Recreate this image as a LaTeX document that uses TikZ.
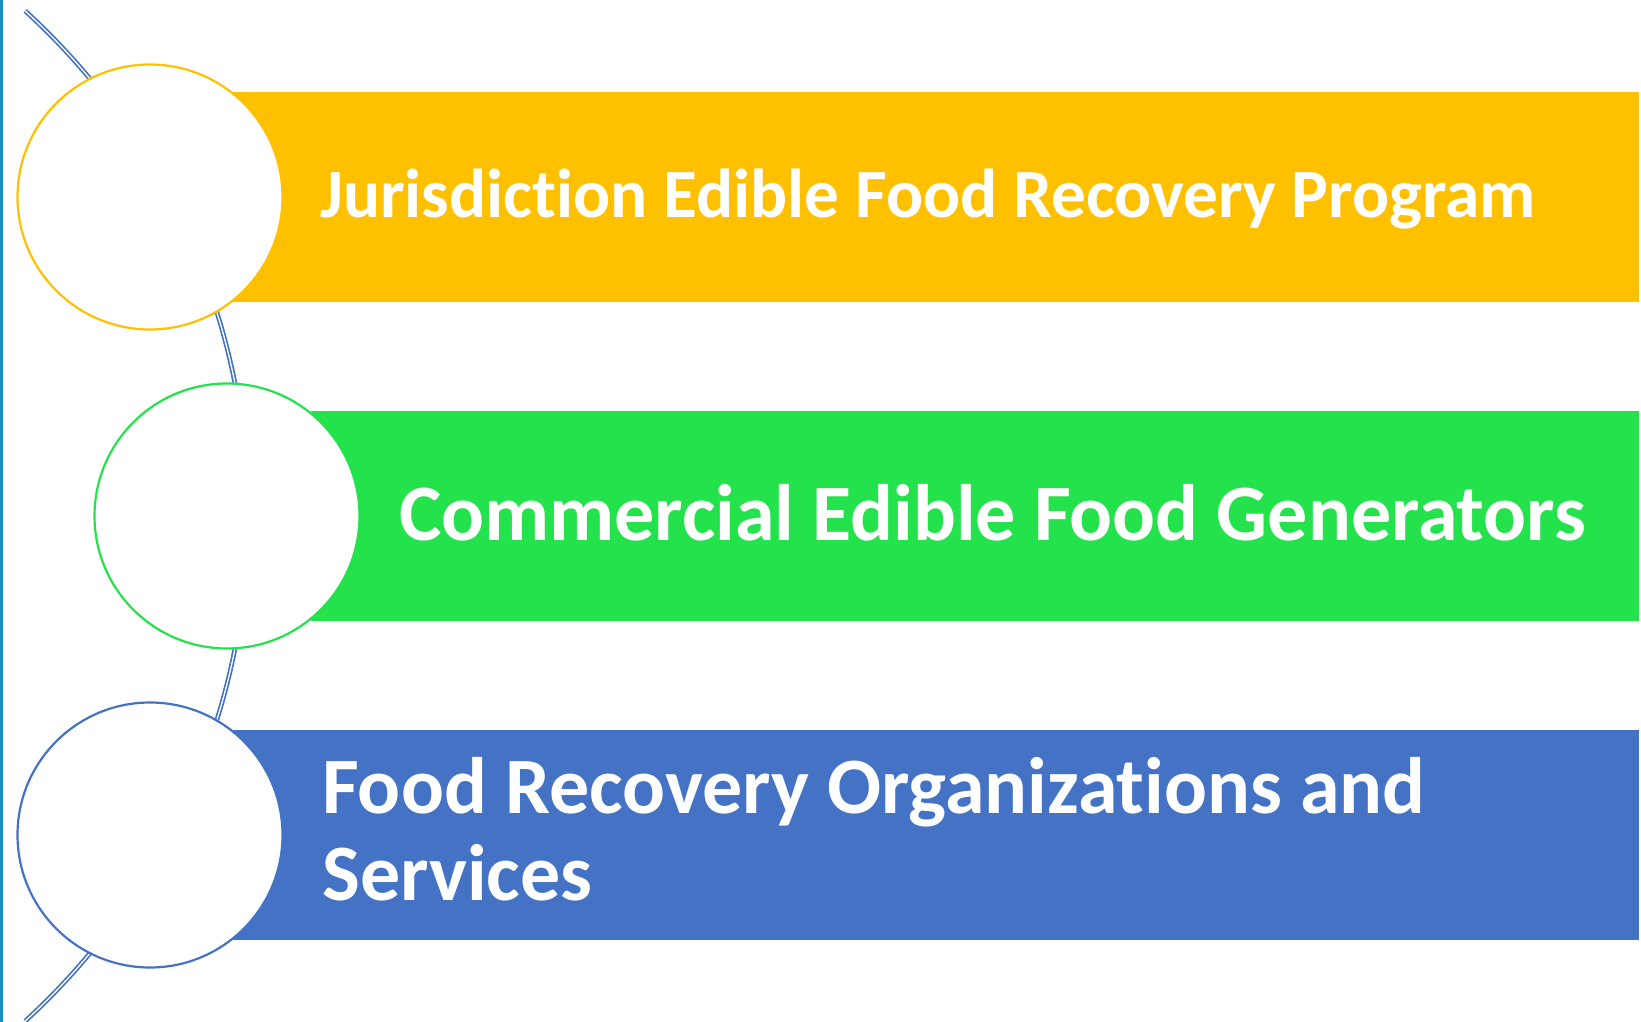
\documentclass[tikz,border=0pt]{standalone}
\usepackage{fontspec}
\setmainfont[Ligatures=NoCommon]{Carlito}
\usetikzlibrary{positioning}
\definecolor{cYel}{HTML}{FFC000}
\definecolor{cGrn}{HTML}{23E24C}
\definecolor{cBlu}{HTML}{4472C4}
\definecolor{cEdge}{HTML}{168FC0}
\tikzset{
  bar/.style={rectangle, anchor=west, minimum height=210, inner sep=0pt, draw=none},
  disc/.style={circle, fill=white, line width=2.2pt, minimum size=265, inner sep=0pt},
  lbl/.style={anchor=base west, inner sep=0pt, text=white, font=\bfseries, align=left},
}
\begin{document}
\begin{tikzpicture}[x=1pt, y=-1pt, line join=round]
\useasboundingbox (0,0) rectangle (1641,1022);
\fill[cEdge] (0,0) rectangle (3,1022);
% curved spine behind the circles
\path (-436,516) coordinate (O);
\draw[cBlu, line width=1.7pt, double=white, double distance=1.3pt]
  (O) ++(-47.6:684) arc[start angle=-47.6, end angle=47.6, radius=684];
% bars and rings
\foreach \n/\c/\x/\cx/\y in {1/cYel/232/150/197, 2/cGrn/311/227/516, 3/cBlu/232/150/835}
{
  \node[bar, fill=\c, minimum width={1639-\x}] (bar\n) at (\x,\y) {};
  \node[disc, draw=\c] (ring\n) at (\cx,\y) {};
}
\node[lbl, font=\bfseries\fontsize{69.2}{84}\selectfont] (txt1) at (320,217)
  {Jurisdiction Edible Food Recovery Program};
\node[lbl, font=\bfseries\fontsize{80}{98}\selectfont] (txt2) at (399,540)
  {Commercial Edible Food Generators};
\node[lbl, font=\bfseries\fontsize{80}{87}\selectfont] (txt3) at (322,900)
  {Food Recovery Organizations and\\Services};
\end{tikzpicture}
\end{document}
